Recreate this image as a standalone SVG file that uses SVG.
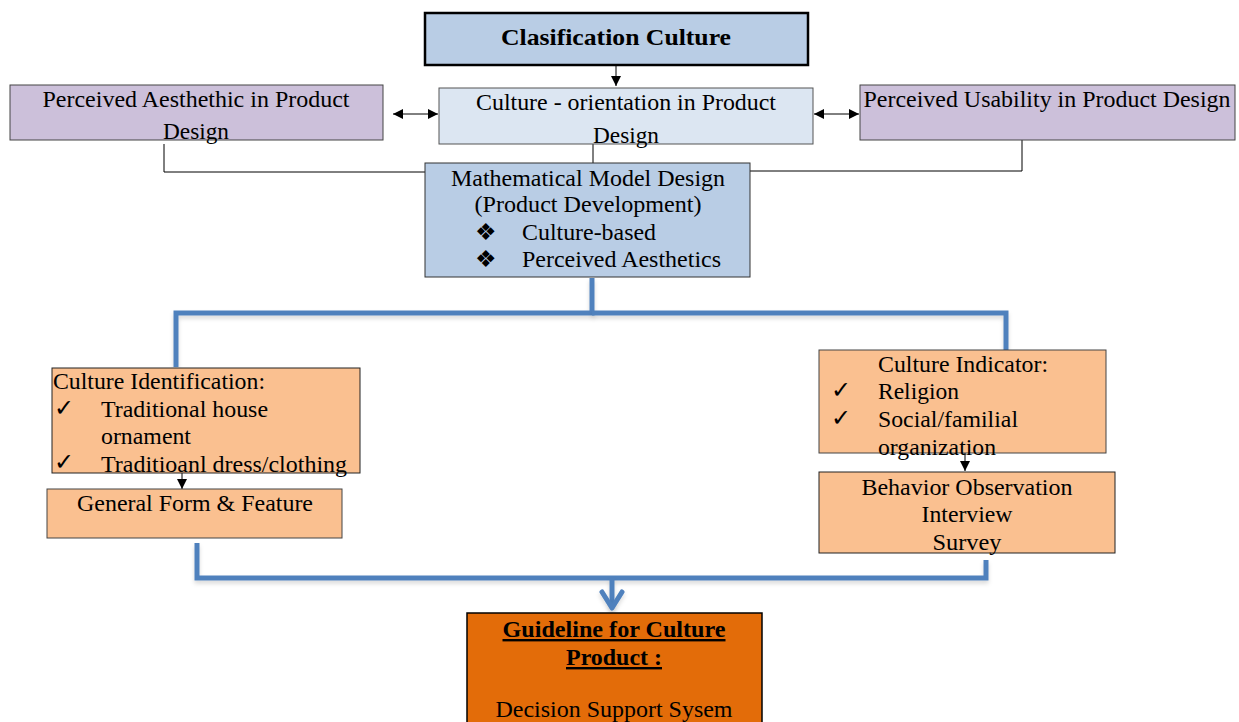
<svg xmlns="http://www.w3.org/2000/svg" width="1239" height="722" viewBox="0 0 1239 722">
<defs>
<style>
text{font-family:"Liberation Serif","Times New Roman",serif;font-size:24px;fill:#000}
.c{text-anchor:middle}
.b{font-weight:bold}
.thin{stroke:#000;stroke-width:1;fill:none}
.blue{stroke:#4f81bd;stroke-width:5;fill:none;filter:url(#sh)}
</style>
<marker id="ah" viewBox="0 0 10 10" refX="10" refY="5" markerWidth="10" markerHeight="10" markerUnits="userSpaceOnUse" orient="auto-start-reverse">
<path d="M0,0 L10,5 L0,10 z" fill="#000"/>
</marker>
<filter id="sh" filterUnits="userSpaceOnUse" x="0" y="0" width="1239" height="722">
<feDropShadow dx="0" dy="3" stdDeviation="2" flood-color="#000" flood-opacity="0.15"/>
</filter>
</defs>
<g id="connectors">
<line class="thin" x1="616" y1="65" x2="616" y2="86" marker-end="url(#ah)"/>
<line class="thin" x1="393" y1="114" x2="438" y2="114" marker-start="url(#ah)" marker-end="url(#ah)"/>
<line class="thin" x1="814" y1="114" x2="859" y2="114" marker-start="url(#ah)" marker-end="url(#ah)"/>
<polyline class="thin" points="164,144 164,172 425,172"/>
<polyline class="thin" points="750,171 1022,171 1022,140"/>
<line class="thin" x1="593" y1="144" x2="593" y2="163" stroke="#555"/>
<line class="thin" x1="182" y1="473" x2="182" y2="489" marker-end="url(#ah)"/>
<line class="thin" x1="965" y1="453" x2="965" y2="471" marker-end="url(#ah)"/>
<polyline class="blue" points="592,278 592,313 176,313 176,367"/>
<polyline class="blue" points="592,313 1006,313 1006,350"/>
<polyline class="blue" points="197,543 197,578 986,578 986,560"/>
<line class="blue" x1="612" y1="578" x2="612" y2="608"/>
<polyline class="blue" points="602,592 612,608 622,592" stroke-linecap="round" stroke-linejoin="round"/>
</g>
<g id="classification">
<rect x="425" y="13" width="383" height="52" fill="#b9cde5" stroke="#000" stroke-width="2.5"/>
<text class="c b" x="616" y="45" font-size="22" textLength="230" lengthAdjust="spacingAndGlyphs">Clasification Culture</text>
</g>
<g id="aesthetic">
<rect x="10" y="85" width="373" height="55" fill="#ccc0da" stroke="#444" stroke-width="1"/>
<text class="c" x="196" y="107" textLength="307" lengthAdjust="spacingAndGlyphs">Perceived Aesthethic in Product</text>
<text class="c" x="196" y="139" textLength="66" lengthAdjust="spacingAndGlyphs">Design</text>
</g>
<g id="orientation">
<rect x="439" y="88" width="374" height="56" fill="#dce6f2" stroke="#555" stroke-width="1"/>
<text class="c" x="626" y="110" textLength="300" lengthAdjust="spacingAndGlyphs">Culture - orientation in Product</text>
<text class="c" x="626" y="143" textLength="66" lengthAdjust="spacingAndGlyphs">Design</text>
</g>
<g id="usability">
<rect x="860" y="85" width="375" height="55" fill="#ccc0da" stroke="#444" stroke-width="1"/>
<text class="c" x="1047" y="107" textLength="367" lengthAdjust="spacingAndGlyphs">Perceived Usability in Product Design</text>
</g>
<g id="math">
<rect x="425" y="163" width="325" height="114" fill="#b9cde5" stroke="#333" stroke-width="1"/>
<text class="c" x="588" y="186" textLength="274" lengthAdjust="spacingAndGlyphs">Mathematical Model Design</text>
<text class="c" x="588" y="212" textLength="227" lengthAdjust="spacingAndGlyphs">(Product Development)</text>
<text x="475" y="240" font-family="DejaVu Sans" font-size="16">❖</text>
<text x="522" y="240" textLength="134" lengthAdjust="spacingAndGlyphs">Culture-based</text>
<text x="475" y="267" font-family="DejaVu Sans" font-size="16">❖</text>
<text x="522" y="267" textLength="199" lengthAdjust="spacingAndGlyphs">Perceived Aesthetics</text>
</g>
<g id="identification">
<rect x="52" y="368" width="308" height="105" fill="#fac090" stroke="#222" stroke-width="1"/>
<text x="53" y="389" textLength="212" lengthAdjust="spacingAndGlyphs">Culture Identification:</text>
<text x="54" y="416" font-family="DejaVu Sans" font-size="18">✓</text>
<text x="101" y="417" textLength="167" lengthAdjust="spacingAndGlyphs">Traditional house</text>
<text x="101" y="444" textLength="90" lengthAdjust="spacingAndGlyphs">ornament</text>
<text x="54" y="470" font-family="DejaVu Sans" font-size="18">✓</text>
<text x="101" y="472" textLength="246" lengthAdjust="spacingAndGlyphs">Traditioanl dress/clothing</text>
</g>
<g id="form">
<rect x="47" y="489" width="295" height="49" fill="#fac090" stroke="#444" stroke-width="1"/>
<text class="c" x="195" y="511" textLength="236" lengthAdjust="spacingAndGlyphs">General Form &amp; Feature</text>
</g>
<g id="indicator">
<rect x="819" y="350" width="287" height="103" fill="#fac090" stroke="#444" stroke-width="1"/>
<text x="878" y="372" textLength="170" lengthAdjust="spacingAndGlyphs">Culture Indicator:</text>
<text x="831" y="398" font-family="DejaVu Sans" font-size="18">✓</text>
<text x="878" y="399" textLength="81" lengthAdjust="spacingAndGlyphs">Religion</text>
<text x="831" y="426" font-family="DejaVu Sans" font-size="18">✓</text>
<text x="878" y="427" textLength="140" lengthAdjust="spacingAndGlyphs">Social/familial</text>
<text x="878" y="455" textLength="118" lengthAdjust="spacingAndGlyphs">organization</text>
</g>
<g id="behavior">
<rect x="819" y="472" width="296" height="81" fill="#fac090" stroke="#222" stroke-width="1"/>
<text class="c" x="967" y="495" textLength="211" lengthAdjust="spacingAndGlyphs">Behavior Observation</text>
<text class="c" x="967" y="522" textLength="91" lengthAdjust="spacingAndGlyphs">Interview</text>
<text class="c" x="967" y="550" textLength="69" lengthAdjust="spacingAndGlyphs">Survey</text>
</g>
<g id="guideline">
<rect x="467" y="613" width="295" height="120" fill="#e36c09" stroke="#000" stroke-width="1.5"/>
<text class="c b" x="614" y="637" text-decoration="underline" textLength="223" lengthAdjust="spacingAndGlyphs">Guideline for Culture</text>
<text class="c b" x="614" y="665" text-decoration="underline" textLength="96" lengthAdjust="spacingAndGlyphs">Product :</text>
<text class="c" x="614" y="717" textLength="237" lengthAdjust="spacingAndGlyphs">Decision Support Sysem</text>
</g>
</svg>
